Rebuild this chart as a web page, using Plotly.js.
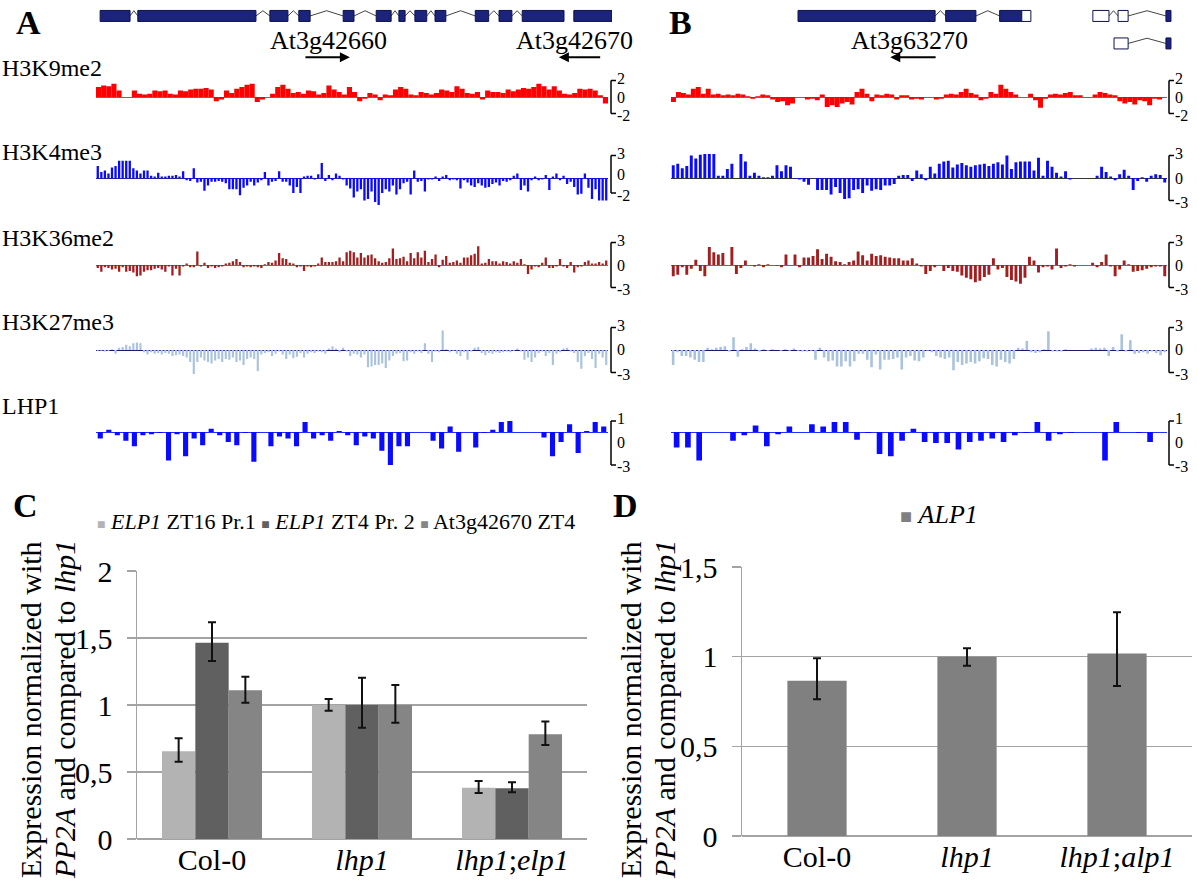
<!DOCTYPE html>
<html><head><meta charset="utf-8">
<script src="https://cdn.plot.ly/plotly-3.0.1.min.js"></script>
<style>html,body{margin:0;padding:0;background:#fff}</style>
</head><body><div id="chart" style="width:1197px;height:890px"></div>
<script>
// ================= DATA =================
// Panel A tracks (relative enrichment, bins along At3g42660/At3g42670 region)
const k9A = [1.2,1.4,1.3,1.6,0.8,0,0,0.8,0.4,0.3,
 0.4,0.8,0.7,0.8,0.4,0.3,0.8,0.7,0.9,1.0,
 1.0,1.1,0.9,-0.5,-0.3,0.8,0.5,1.0,1.2,1.5,
 1.6,-0.6,-0.3,0,0.4,1.2,1.5,1.0,0.5,0.6,
 0.4,0.8,0.7,0.3,0.5,1.4,0.9,0.6,0.3,1.2,
 0.6,-0.5,-0.2,0.5,0.3,-0.4,0.3,0.2,0.9,1.2,
 1.0,0.3,0.2,0.6,0.5,0.3,0.5,0.9,0.8,0.6,
 1.3,1.0,0.5,0.4,0.6,-0.3,0.8,0.6,0.6,0.5,
 0.9,0.7,0.9,1.1,1.0,1.2,1.6,1.3,0.9,1.3,
 0.8,0.4,0.3,0.5,1.0,0.9,1.0,0.8,0.2,-0.8];
const k4A = [1.6,0.8,1.0,0.6,1.4,1.6,2.3,2.3,2.3,2.3,
 1.3,1.0,0.6,1.0,1.0,0.3,0.2,0.7,0.2,0.2,
 0.3,0.3,0.4,0.2,0.9,-0.3,-0.4,1.3,-0.6,-0.5,
 -1.7,-1.0,-0.5,-0.5,-0.4,-0.5,-0.7,-1.5,-1.5,-1.5,
 -2.3,-1.3,-1.0,-0.5,-1.0,-0.6,-0.3,0.8,-1.0,-0.5,
 -0.4,0.9,-0.5,-0.5,-1.0,-2.0,-1.2,-2.0,0.2,0.3,
 0.3,-0.2,0.5,2.0,-0.4,0.4,-0.3,0.6,0.3,-0.2,
 -1.0,-1.4,-2.6,-1.8,-1.5,-3.0,-2.8,-1.8,-3.2,-3.6,
 -2.0,-1.5,-1.8,-1.0,-2.2,-1.5,-0.7,-0.5,-2.2,1.0,
 -0.5,-0.4,-1.8,-0.2,-0.2,0.2,-0.4,0.2,0.4,-0.3,
 -0.2,-0.3,-1.4,-0.3,-0.6,-1.0,-1.2,-0.7,-1.0,-1.3,
 -1.2,-0.8,-0.6,-1.0,-0.4,-0.5,-0.3,0.3,0.6,-1.6,
 -1.0,-1.8,-0.3,0.2,-0.3,-0.2,0.4,-1.6,0.2,0.6,
 -0.3,0.3,-0.8,-0.5,-1.2,-2.2,-2.1,0.6,-1.3,-2.8,
 -1.5,-3.0,-3.0,-3.0];
const k36A = [-0.4,-0.9,-0.3,-0.4,-0.6,-0.5,-0.9,-0.3,-0.9,-0.8,
 -1.0,-1.5,-1.4,-0.9,-0.7,-0.7,-0.5,-0.4,-0.6,-0.9,
 -0.2,-1.4,-0.5,-1.4,-0.2,0.2,-0.3,-0.3,1.8,-0.2,
 0.3,-0.4,-0.2,-0.4,-0.3,-0.2,0.2,0.3,0.5,0.8,
 0.4,-0.3,-0.2,-0.3,-0.2,-0.3,-0.4,0.1,0.4,0.3,
 0.6,1.6,0.9,0.8,0.3,0.2,-0.3,-0.2,-0.8,-0.2,
 -0.3,-0.2,0.2,1.0,0.4,0.4,0.4,0.5,1.0,0.5,
 1.7,1.9,1.7,1.0,1.6,1.0,1.3,1.4,0.9,0.5,
 0.3,0.4,0.9,2.2,0.8,0.9,1.1,0.5,1.6,0.9,
 1.7,1.0,1.9,0.4,0.8,1.4,-0.3,0.7,1.2,0.3,
 0.4,0.6,0.3,1.0,1.0,1.3,1.5,2.5,0.2,0.3,
 0.8,0.5,0.5,0.2,0.5,0.4,0.2,0.5,0.3,0.8,
 0.1,-1.2,-0.6,-0.2,-0.3,0.3,1.0,-0.4,-0.4,-0.2,
 0.8,-0.2,-0.4,0.4,-1.0,-0.3,-0.2,0.4,0.6,0.2,
 0.2,0.4,0.2,0.6];
const k27A = [-0.1,-0.1,-0.2,-0.1,0.1,-0.5,0.3,0.4,0.7,0.5,
 0.9,1.0,0.9,-0.3,-0.6,-0.3,-0.5,-0.4,-0.6,-0.4,
 -0.5,-0.8,-0.7,-0.6,-0.8,-1.0,-1.6,-3.2,-1.6,-1.0,
 -1.4,-1.6,-1.8,-1.4,-1.2,-1.6,-1.2,-1.3,-1.0,-1.6,
 -1.4,-2.0,-1.2,-1.0,-1.2,-2.8,-0.6,-0.4,-0.3,-0.8,
 -0.5,-0.2,-0.6,-1.2,-0.6,-1.1,-0.9,-0.4,-1.0,-0.5,
 -0.3,-0.4,-0.2,-0.3,-0.5,0.2,0.5,0.2,-0.3,0.3,
 -0.2,-0.8,-0.5,-0.6,-1.0,-0.6,-2.3,-2.2,-2.0,-2.0,
 -1.8,-2.4,-1.4,-0.8,-0.5,-0.4,-1.5,-1.4,-0.3,-0.5,
 -0.2,-0.4,0.9,-0.5,-1.6,-0.2,-0.3,2.6,0.1,-0.3,
 -0.1,-0.5,-0.8,-0.3,-1.3,-0.2,0.3,0.4,-0.4,-0.7,
 -0.4,-0.5,-0.3,-0.4,-0.3,-0.2,-0.3,-0.1,0.2,-0.2,
 -1.3,-1.0,-1.6,-1.0,-0.4,-0.2,-0.8,-0.4,-2.0,-0.5,
 -0.3,0.2,0.3,-0.2,-0.4,-1.6,-2.5,-0.8,-0.4,-1.2,
 -2.4,-0.5,-1.0,-2.0];
const lhp1A = [-0.6,0.2,-0.3,-0.8,-1.3,-0.3,-0.2,-0.1,-2.6,-0.2,
 -2.2,-0.6,-1.2,0.3,-0.3,-0.9,-1.2,-0.1,-2.7,0,
 -1.3,-0.4,-0.6,-1.3,0.9,-0.6,-0.3,-0.8,0.1,-0.3,
 -1.2,-0.4,-0.6,-1.7,-3.0,-1.3,-1.3,0,0,-0.8,
 -1.5,0.5,-1.8,0,-1.4,-0.1,0.2,0.9,1.0,0,
 0,0,-0.5,-2.2,-0.9,0.7,-1.9,0.1,0.9,0.5];
// Panel B tracks (At3g63270 region)
const k9B = [-0.6,0.6,0.5,0.3,1.0,1.2,0.4,1.0,0.3,0.4,
 0.2,0.3,0.2,0.4,0.3,0.1,-0.2,0.1,0.3,0.2,
 -0.3,-0.6,-0.5,-1.0,-0.8,0,0,-0.3,-0.2,-0.4,
 0.3,-1.2,-1.0,-1.2,-0.8,-0.6,-0.9,0.6,1.0,0.4,
 -0.5,0.3,0.2,0.4,0.3,-0.3,0.2,0.2,-0.3,-0.2,
 -0.3,0,0,-0.3,-0.2,0.3,0.4,0.3,0.6,1.0,
 0.5,0.3,-0.4,-0.2,0.6,0.4,1.5,1.0,0.6,0.3,
 0,0,0.4,-0.4,-1.3,-0.2,0.3,0.4,0.3,0.5,
 0.6,0.2,0.2,0,0,0.3,0.6,0.5,0.3,0.2,
 -0.5,-0.8,-0.6,-0.9,-0.4,-0.5,-1.0,-0.2,-0.3,0];
const k4B = [1.7,1.9,1.3,1.6,3.0,2.6,3.1,3.2,3.2,3.2,
 0.3,0.3,1.2,1.9,0,3.2,2.2,0.3,0.7,0.3,
 0.1,0.1,0.3,1.7,0.9,1.7,1.5,-0.1,-0.2,-0.5,
 -0.9,0,-1.6,-1.6,-1.6,-2.2,-1.2,-2.0,-2.8,-2.7,
 -1.6,-1.5,-2.0,-1.0,-1.7,-1.5,-1.6,-1.0,-1.0,-0.8,
 0.3,0.4,0.4,-0.4,1.0,0.5,-0.3,1.5,0.6,1.9,
 2.2,2.3,1.4,1.8,2.0,1.7,1.5,1.7,1.8,1.9,
 1.6,1.9,2.1,1.8,3.0,1.2,2.1,2.2,2.2,2.2,
 1.0,2.7,0.3,2.3,1.5,0.7,0.2,0.9,-0.2,0,
 0,0,0,0,0.3,1.5,0.8,0.2,-0.3,0.5,
 1.1,0.3,-1.6,-0.4,0.1,-0.5,0.3,0.5,0.4,-0.6];
const k36B = [-1.5,-1.3,-0.3,-1.3,-0.5,0.7,-0.8,-1.5,2.4,1.7,
 1.4,1.6,0,2.4,-1.2,-0.4,0.6,0,-0.2,0.1,
 -0.3,0.1,0,-0.1,-0.3,1.4,0,1.4,-0.3,1.0,
 1.0,1.2,2.1,0.8,1.5,1.1,0.5,0.4,0.1,0.4,
 0.6,1.8,1.3,0.6,1.5,1.2,1.3,1.1,1.0,0.9,
 0.9,0.6,0.6,0.9,0.2,-0.2,-1.2,-0.8,-0.3,0,
 -0.8,-0.4,-0.8,-0.9,-1.4,-1.7,-1.9,-2.3,-2.1,-1.6,
 -1.3,0.9,-0.6,-0.4,-1.6,-2.0,-2.2,-2.5,-1.7,1.1,
 0.6,-1.0,-0.3,-0.2,-0.6,2.2,-0.4,-0.2,0.1,-0.2,
 0,0,0,0.3,-0.3,0.4,1.4,-0.2,-1.5,-0.6,
 0.6,0.1,-0.9,-0.8,-0.7,-0.5,-0.3,-0.2,-0.2,-1.5];
const k27B = [-2.0,-0.3,-0.8,-0.8,-1.0,-1.3,-1.6,-1.6,0.3,0.1,
 0.3,0.4,0.5,-0.2,1.7,-0.9,0.1,0.4,0.9,0.2,
 -0.2,0.1,-0.1,0.1,0,-0.1,0.1,-0.1,0.2,-0.1,
 -0.2,-0.2,-0.1,-1.3,0.3,-1.0,-1.5,-1.4,-2.2,-2.2,
 -1.5,-2.2,-1.5,-0.5,-0.5,-1.3,-2.3,-0.6,-2.6,-1.3,
 -1.3,-1.2,-1.0,-2.6,-1.0,-0.8,-1.4,-1.5,-1.0,-0.1,
 -0.3,-0.8,-1.0,-1.2,-1.0,-2.7,-1.6,-2.0,-1.8,-1.6,
 -1.8,-1.5,-1.1,-1.2,-2.0,-2.2,-1.3,-1.6,-1.8,-1.2,
 0.3,0.2,1.2,-0.3,-0.4,-0.3,0.1,2.5,-0.2,-0.2,
 -0.2,0.1,0,0,0,0,0,0.2,0.3,0.2,
 0.3,-0.8,0.4,-0.2,2.1,-0.2,1.3,-0.5,-0.4,-0.3,
 -0.5,-0.2,-0.4,-0.7,-0.3];
const lhp1B = [-1.4,-1.4,-2.6,0,0,-0.8,-0.3,0.6,-1.3,-0.2,
 0.5,0,0.7,0.5,0.9,0.9,-0.7,-0.1,-2.0,-2.2,
 -0.8,0.3,-0.9,-1.0,-1.0,-1.6,-0.9,-0.8,-0.6,-0.9,
 -0.3,-0.1,0.9,-0.8,-0.2,-0.1,0,0,-2.6,0.9,
 0,-0.1,-0.9,0];

// Gene models (relative position along each region, 0-100)
const geneA_start = [0.8, 8.1, 33.7, 39.3, 47.9, 54.3, 58.7, 61.8, 65.7, 73.5, 78.1, 82.6, 92.6];
const geneA_end   = [6.6, 31.0, 37.2, 41.5, 50.0, 57.2, 59.9, 64.1, 67.8, 76.1, 80.6, 90.7, 100];
const geneA_id    = [0,0,0,0,0,0,0,0,0,0,0,0,1];
const geneA_row   = [0,0,0,0,0,0,0,0,0,0,0,0,0];
const geneA_kind  = ['cds','cds','cds','cds','cds','cds','cds','cds','cds','cds','cds','cds','cds'];
const geneB_start = [25.2, 54.5, 65.2, 69.6, 83.7, 88.7, 98.2, 87.9, 98.2];
const geneB_end   = [52.4, 60.5, 69.6, 71.4, 86.9, 90.7, 99.2, 90.7, 99.2];
const geneB_id    = [0,0,0,0,1,1,1,2,2];
const geneB_row   = [0,0,0,0,0,0,0,1,1];
const geneB_kind  = ['cds','cds','cds','utr','utr','utr','cds','utr','cds'];
const geneA_labels = ['At3g42660','At3g42670'];
const geneA_labelPos = [45, 92.8];
const geneA_arrowFrom = [40.3, 98.0];
const geneA_arrowTo = [49.2, 89.7];
const geneB_labels = ['At3g63270'];
const geneB_labelPos = [47.4];
const geneB_arrowFrom = [52.8];
const geneB_arrowTo = [43.5];

// Panel C: qRT-PCR
const catsC = ['Col-0','lhp1','lhp1;elp1'];
const catLabelsC = ['Col-0','<i>lhp1</i>','<i>lhp1</i>;<i>elp1</i>'];
const seriesC = ['<i>ELP1</i> ZT16 Pr.1','<i>ELP1</i> ZT4 Pr. 2','At3g42670 ZT4'];
const valsC = [[0.654,1.0,0.383],[1.465,1.0,0.378],[1.11,1.0,0.781]];
const errUpC = [[0.098,0.045,0.05],[0.152,0.204,0.045],[0.10,0.149,0.096]];
const errDnC = [[0.077,0.043,0.04],[0.137,0.17,0.03],[0.093,0.132,0.08]];
// Panel D
const catsD = ['Col-0','lhp1','lhp1;alp1'];
const catLabelsD = ['Col-0','<i>lhp1</i>','<i>lhp1</i>;<i>alp1</i>'];
const seriesD = '<i>ALP1</i>';
const valsD = [0.866,1.0,1.017];
const errUpD = [0.125,0.047,0.231];
const errDnD = [0.104,0.05,0.18];
const yTitleLines = ['Expression normalized with', '<i>PP2A</i> and compared to <i>lhp1</i>'];

// ================= LAYOUT HELPERS =================
const W = 1197, H = 890;
const PX = x => x / W;
const PY = y => 1 - y / H;
const FONT = 'Liberation Serif';

const tracks = [
 {label:'H3K9me2', panel:'A', vals:k9A, color:'#ff0000', zero:97, ppu:8.25, lo:-2.4, hi:2.4, br:[-2,2], lab:['2','0','-2'], w:1.0, zl:'#5060ff', ly:68},
 {label:'H3K4me3', panel:'A', vals:k4A, color:'#0a0aff', zero:178, ppu:7.5, lo:-4, hi:3.4, br:[-2,3], lab:['3','0','-2'], w:0.65, zl:'#2020a0', ly:152},
 {label:'H3K36me2', panel:'A', vals:k36A, color:'#a31f1f', zero:265, ppu:7.5, lo:-3.6, hi:3.4, br:[-3,3], lab:['3','0','-3'], w:0.65, zl:'#5060ff', ly:238},
 {label:'H3K27me3', panel:'A', vals:k27A, color:'#a9c3dc', zero:350, ppu:7.5, lo:-3.6, hi:3.4, br:[-3,3], lab:['3','0','-3'], w:0.6, zl:'#1a1a70', ly:322},
 {label:'LHP1', panel:'A', vals:lhp1A, color:'#0a0aff', zero:432, ppu:11, lo:-3.2, hi:1.3, br:[-3,1], lab:['1','0','-3'], w:0.6, zl:'#2030ff', ly:406},
 {label:null, panel:'B', vals:k9B, color:'#ff0000', zero:97, ppu:8.25, lo:-2.4, hi:2.4, br:[-2,2], lab:['2','0','-2'], w:1.0, zl:'#5060ff'},
 {label:null, panel:'B', vals:k4B, color:'#0a0aff', zero:178, ppu:7.5, lo:-4, hi:3.4, br:[-3,3], lab:['3','0','-3'], w:0.65, zl:'#333333'},
 {label:null, panel:'B', vals:k36B, color:'#a31f1f', zero:265, ppu:7.5, lo:-3.6, hi:3.4, br:[-3,3], lab:['3','0','-3'], w:0.65, zl:'#5060ff'},
 {label:null, panel:'B', vals:k27B, color:'#a9c3dc', zero:350, ppu:7.5, lo:-3.6, hi:3.4, br:[-3,3], lab:['3','0','-3'], w:0.6, zl:'#1a1a70'},
 {label:null, panel:'B', vals:lhp1B, color:'#0a0aff', zero:432, ppu:11, lo:-3.2, hi:1.3, br:[-3,1], lab:['1','0','-3'], w:0.5, zl:'#2030ff'}
];
const panels = {A:{x0:96, x1:608, bx:611}, B:{x0:671, x1:1167, bx:1169}};

const data = [];
const layout = {
  width: W, height: H, margin:{l:0,r:0,t:0,b:0,pad:0},
  paper_bgcolor:'#ffffff', plot_bgcolor:'rgba(0,0,0,0)',
  showlegend:false, separators:',.',
  font:{family:FONT, color:'#000', size:20},
  barmode:'group', bargap:0.333, bargroupgap:0,
  shapes:[], annotations:[]
};
const axn = k => (k===1 ? '' : String(k));
const ann = o => layout.annotations.push(Object.assign({showarrow:false, xanchor:'center', yanchor:'middle'}, o));

tracks.forEach((t,i)=>{
  const k = i+1, xa='x'+axn(k), ya='y'+axn(k);
  const n = t.vals.length, p = panels[t.panel];
  data.push({type:'bar', x:t.vals.map((v,j)=>j+0.5), y:t.vals, width:t.w,
    marker:{color:t.color, line:{width:0}}, xaxis:xa, yaxis:ya, hoverinfo:'skip', showlegend:false});
  layout['xaxis'+axn(k)] = {domain:[PX(p.x0),PX(p.x1)], range:[0,n], visible:false, anchor:ya, fixedrange:true};
  layout['yaxis'+axn(k)] = {domain:[PY(t.zero - t.lo*t.ppu), PY(t.zero - t.hi*t.ppu)], range:[t.lo,t.hi],
    anchor:xa, showgrid:false, showticklabels:false, ticks:'', showline:false,
    zeroline:true, zerolinecolor:t.zl, zerolinewidth:1, fixedrange:true};
  // scale bracket
  const bx = PX(p.bx), tx = PX(p.bx+5);
  const lw = {color:'#000', width:1.5};
  layout.shapes.push({type:'line', xref:'paper', yref:ya, x0:bx, x1:bx, y0:t.br[0], y1:t.br[1], line:lw});
  layout.shapes.push({type:'line', xref:'paper', yref:ya, x0:bx, x1:tx, y0:t.br[0], y1:t.br[0], line:lw});
  layout.shapes.push({type:'line', xref:'paper', yref:ya, x0:bx, x1:tx, y0:t.br[1], y1:t.br[1], line:lw});
  const ys = [t.br[1], (t.br[0]+t.br[1])/2, t.br[0]];
  const shifts = [2, 0, -2];
  ys.forEach((yv,j)=>ann({xref:'paper', yref:ya, x:PX(p.bx+5), y:yv, xanchor:'left', yshift:shifts[j],
    text:t.lab[j], font:{size:16}, borderpad:0}));
  if (t.label) ann({xref:'paper', yref:'paper', x:PX(0), y:PY(t.ly), xanchor:'left', text:t.label, font:{size:24}});
});

// ---------- Gene models ----------
function drawGenes(k, dom, st, en, id, row, kind, labels, lpos, afrom, ato){
  const xa='x'+k, ya='y'+k;
  layout['xaxis'+k] = {domain:dom, range:[0,100], visible:false, anchor:ya, fixedrange:true};
  layout['yaxis'+k] = {domain:[PY(66), 1], range:[1.82,-0.58], visible:false, anchor:xa, fixedrange:true};
  const ix=[], iy=[];
  for (let j=0;j<st.length;j++){
    layout.shapes.push({type:'rect', xref:xa, yref:ya, x0:st[j], x1:en[j], y0:row[j]-0.2, y1:row[j]+0.2,
      fillcolor: kind[j]==='cds' ? '#1b237a' : '#ffffff', line:{color:'#0d1250', width:1}, layer:'above'});
    if (j+1<st.length && id[j+1]===id[j] && st[j+1]-en[j] > 0.5){
      const m=(en[j]+st[j+1])/2;
      ix.push(en[j], m, st[j+1], null); iy.push(row[j], row[j]-0.19, row[j], null);
    }
  }
  data.push({type:'scatter', mode:'lines', x:ix, y:iy, xaxis:xa, yaxis:ya, line:{color:'#444', width:1},
    hoverinfo:'skip', showlegend:false});
  labels.forEach((s,j)=>{
    ann({xref:xa, yref:ya, x:lpos[j], y:0.9, text:s, font:{size:26}});
    layout.annotations.push({xref:xa, yref:ya, x:ato[j], y:1.5, ax:afrom[j], ay:1.5, axref:xa, ayref:ya,
      text:'', showarrow:true, arrowhead:2, arrowsize:1, arrowwidth:2, arrowcolor:'#000'});
  });
}
drawGenes(13, [PX(96),PX(612)], geneA_start, geneA_end, geneA_id, geneA_row, geneA_kind, geneA_labels, geneA_labelPos, geneA_arrowFrom, geneA_arrowTo);
drawGenes(14, [PX(671),PX(1175)], geneB_start, geneB_end, geneB_id, geneB_row, geneB_kind, geneB_labels, geneB_labelPos, geneB_arrowFrom, geneB_arrowTo);

// ---------- Panel C ----------
const colC = ['#b3b3b3','#606060','#858585'];
seriesC.forEach((nm,s)=>{
  data.push({type:'bar', name:nm, x:catsC, y:valsC[s], xaxis:'x11', yaxis:'y11',
    marker:{color:colC[s], line:{width:0}},
    error_y:{type:'data', symmetric:false, array:errUpC[s], arrayminus:errDnC[s], color:'#111', thickness:2, width:4},
    hoverinfo:'skip', showlegend:false});
});
const gridC = '#a3a3a3';
function barAxes(k, xdom, ydom, cats, labels, rng){
  layout['xaxis'+k] = {domain:xdom, anchor:'y'+k, type:'category', range:[-0.5,2.5], tickvals:cats, ticktext:labels,
    ticks:'', showline:false, showgrid:false, zeroline:false, tickfont:{size:30, family:FONT}, fixedrange:true};
  layout['yaxis'+k] = {domain:ydom, anchor:'x'+k, range:rng, dtick:0.5, tick0:0, showgrid:true, gridcolor:gridC, gridwidth:1.5,
    showline:true, linecolor:gridC, linewidth:1.5, ticks:'outside', ticklen:9, tickcolor:gridC, tickwidth:1.5,
    ticklabelstandoff:8, tickfont:{size:30, family:FONT}, zeroline:true, zerolinecolor:gridC, zerolinewidth:1.5, fixedrange:true};
}
barAxes(11, [PX(137),PX(587)], [PY(839),PY(571)], catsC, catLabelsC, [0,2]);

// ---------- Panel D ----------
data.push({type:'bar', name:seriesD, x:catsD, y:valsD, xaxis:'x12', yaxis:'y12', width:0.395,
  marker:{color:'#808080', line:{width:0}},
  error_y:{type:'data', symmetric:false, array:errUpD, arrayminus:errDnD, color:'#111', thickness:2, width:4},
  hoverinfo:'skip', showlegend:false});
barAxes(12, [PX(742),PX(1192)], [PY(836),PY(567)], catsD, catLabelsD, [0,1.5]);

// legends (as text keys)
const sq = (c,sz) => '<span style="color:'+c+';font-size:'+sz+'px">■</span>';
ann({xref:'paper', yref:'paper', x:PX(95), y:PY(521), xanchor:'left',
  font:{size:22}, text: seriesC.map((s,j)=>sq(colC[j],14)+' '+s).join(' ')});
ann({xref:'paper', yref:'paper', x:PX(898), y:PY(514), xanchor:'left',
  font:{size:26}, text: sq('#808080',20)+' '+seriesD});

// y-axis titles (two rotated lines each)
[[30,64],[630,664]].forEach(xs=>{
  yTitleLines.forEach((s,j)=>ann({xref:'paper', yref:'paper', x:PX(xs[j]), y:PY(710), textangle:-90, font:{size:30}, text:s}));
});

// panel letters
[['A',28,23],['B',680,23],['C',25,505],['D',625,505]].forEach(l=>{
  ann({xref:'paper', yref:'paper', x:PX(l[1]), y:PY(l[2]), text:'<b>'+l[0]+'</b>', font:{size:34}});
});

Plotly.newPlot('chart', data, layout, {staticPlot:true, displayModeBar:false});
</script></body></html>
